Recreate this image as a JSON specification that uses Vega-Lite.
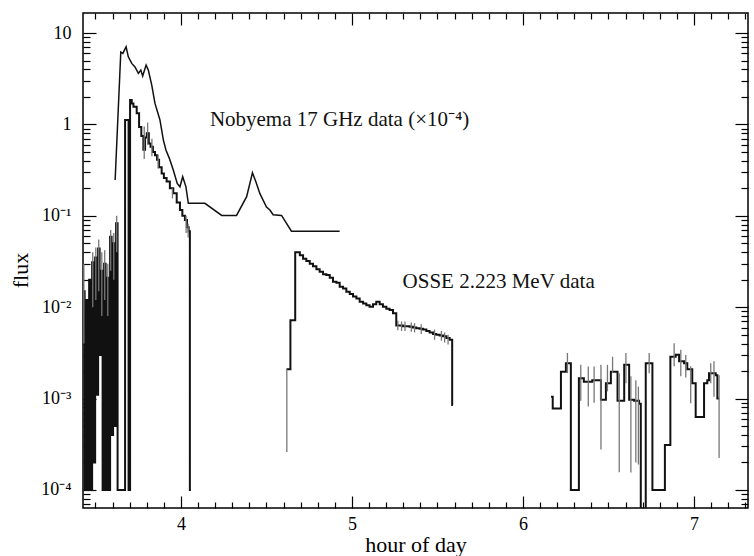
{
  "$schema": "https://vega.github.io/schema/vega-lite/v6.json",
  "width": 665,
  "height": 495,
  "autosize": {"type": "none"},
  "padding": {"left": 83, "top": 13, "right": 6, "bottom": 48},
  "background": "white",
  "config": {
    "font": "Liberation Serif",
    "view": {"stroke": "black", "strokeWidth": 1.5},
    "axis": {"domain": false, "grid": false, "tickColor": "black", "tickWidth": 1.2, "labelColor": "black", "titleColor": "black", "labelFontSize": 18, "titleFontSize": 22, "titleFontWeight": "normal", "labelFont": "Liberation Serif", "titleFont": "Liberation Serif"}
  },
  "datasets": {
    "osse": [
      {"h": 3.4279, "f": 0.015, "seg": "a"},
      {"h": 3.4367, "f": 0.0001, "seg": "a"},
      {"h": 3.4454, "f": 0.012, "seg": "a"},
      {"h": 3.4542, "f": 0.0001, "seg": "a"},
      {"h": 3.4629, "f": 0.02, "seg": "a"},
      {"h": 3.4717, "f": 0.0001, "seg": "a"},
      {"h": 3.4804, "f": 0.031, "seg": "a"},
      {"h": 3.4892, "f": 0.0002, "seg": "a"},
      {"h": 3.498, "f": 0.035, "seg": "a"},
      {"h": 3.5067, "f": 0.0011, "seg": "a"},
      {"h": 3.5155, "f": 0.044, "seg": "a"},
      {"h": 3.5242, "f": 0.003, "seg": "a"},
      {"h": 3.533, "f": 0.025, "seg": "a"},
      {"h": 3.5417, "f": 0.0001, "seg": "a"},
      {"h": 3.5505, "f": 0.03, "seg": "a"},
      {"h": 3.5592, "f": 0.0001, "seg": "a"},
      {"h": 3.568, "f": 0.021, "seg": "a"},
      {"h": 3.5768, "f": 0.0001, "seg": "a"},
      {"h": 3.5855, "f": 0.059, "seg": "a"},
      {"h": 3.5943, "f": 0.0004, "seg": "a"},
      {"h": 3.603, "f": 0.05, "seg": "a"},
      {"h": 3.6118, "f": 0.0005, "seg": "a"},
      {"h": 3.6205, "f": 0.083, "seg": "a"},
      {"h": 3.6293, "f": 0.0001, "seg": "a"},
      {"h": 3.6731, "f": 1.12, "seg": "a"},
      {"h": 3.6935, "f": 0.0001, "seg": "a"},
      {"h": 3.7023, "f": 1.85, "seg": "a"},
      {"h": 3.712, "f": 1.7, "seg": "a"},
      {"h": 3.722, "f": 1.56, "seg": "a"},
      {"h": 3.741, "f": 1.33, "seg": "a"},
      {"h": 3.755, "f": 0.94, "seg": "a"},
      {"h": 3.768, "f": 0.75, "seg": "a"},
      {"h": 3.78, "f": 0.53, "seg": "a"},
      {"h": 3.79, "f": 0.72, "seg": "a"},
      {"h": 3.8, "f": 0.8, "seg": "a"},
      {"h": 3.812, "f": 0.62, "seg": "a"},
      {"h": 3.822, "f": 0.57, "seg": "a"},
      {"h": 3.836, "f": 0.5, "seg": "a"},
      {"h": 3.848, "f": 0.46, "seg": "a"},
      {"h": 3.86, "f": 0.41, "seg": "a"},
      {"h": 3.872, "f": 0.34, "seg": "a"},
      {"h": 3.887, "f": 0.29, "seg": "a"},
      {"h": 3.9, "f": 0.26, "seg": "a"},
      {"h": 3.916, "f": 0.237, "seg": "a"},
      {"h": 3.935, "f": 0.2, "seg": "a"},
      {"h": 3.955, "f": 0.177, "seg": "a"},
      {"h": 3.975, "f": 0.14, "seg": "a"},
      {"h": 3.994, "f": 0.116, "seg": "a"},
      {"h": 4.008, "f": 0.1, "seg": "a"},
      {"h": 4.023, "f": 0.09, "seg": "a"},
      {"h": 4.035, "f": 0.075, "seg": "a"},
      {"h": 4.045, "f": 0.068, "seg": "a"},
      {"h": 4.052, "f": 0.0001, "seg": "a"},
      {"h": 4.058, "f": 0.0001, "seg": "a"},
      {"h": 4.617, "f": 0.0021, "seg": "b"},
      {"h": 4.64, "f": 0.0072, "seg": "b"},
      {"h": 4.668, "f": 0.04, "seg": "b"},
      {"h": 4.695, "f": 0.037, "seg": "b"},
      {"h": 4.714, "f": 0.034, "seg": "b"},
      {"h": 4.733, "f": 0.032, "seg": "b"},
      {"h": 4.753, "f": 0.03, "seg": "b"},
      {"h": 4.772, "f": 0.028, "seg": "b"},
      {"h": 4.792, "f": 0.026, "seg": "b"},
      {"h": 4.811, "f": 0.0245, "seg": "b"},
      {"h": 4.831, "f": 0.023, "seg": "b"},
      {"h": 4.85, "f": 0.0226, "seg": "b"},
      {"h": 4.87, "f": 0.021, "seg": "b"},
      {"h": 4.889, "f": 0.019, "seg": "b"},
      {"h": 4.909, "f": 0.0185, "seg": "b"},
      {"h": 4.928, "f": 0.0168, "seg": "b"},
      {"h": 4.948, "f": 0.016, "seg": "b"},
      {"h": 4.967, "f": 0.0148, "seg": "b"},
      {"h": 4.987, "f": 0.014, "seg": "b"},
      {"h": 5.006, "f": 0.0131, "seg": "b"},
      {"h": 5.026, "f": 0.0125, "seg": "b"},
      {"h": 5.045, "f": 0.0115, "seg": "b"},
      {"h": 5.065, "f": 0.011, "seg": "b"},
      {"h": 5.084, "f": 0.0105, "seg": "b"},
      {"h": 5.103, "f": 0.0101, "seg": "b"},
      {"h": 5.123, "f": 0.0108, "seg": "b"},
      {"h": 5.142, "f": 0.0115, "seg": "b"},
      {"h": 5.162, "f": 0.0108, "seg": "b"},
      {"h": 5.181, "f": 0.0101, "seg": "b"},
      {"h": 5.201, "f": 0.0096, "seg": "b"},
      {"h": 5.22, "f": 0.0093, "seg": "b"},
      {"h": 5.24, "f": 0.0086, "seg": "b"},
      {"h": 5.259, "f": 0.0063, "seg": "b"},
      {"h": 5.279, "f": 0.0063, "seg": "b"},
      {"h": 5.298, "f": 0.0062, "seg": "b"},
      {"h": 5.318, "f": 0.0062, "seg": "b"},
      {"h": 5.337, "f": 0.0061, "seg": "b"},
      {"h": 5.357, "f": 0.006, "seg": "b"},
      {"h": 5.376, "f": 0.0059, "seg": "b"},
      {"h": 5.396, "f": 0.0058, "seg": "b"},
      {"h": 5.415, "f": 0.0057, "seg": "b"},
      {"h": 5.435, "f": 0.0055, "seg": "b"},
      {"h": 5.454, "f": 0.0053, "seg": "b"},
      {"h": 5.474, "f": 0.0051, "seg": "b"},
      {"h": 5.493, "f": 0.005, "seg": "b"},
      {"h": 5.513, "f": 0.0049, "seg": "b"},
      {"h": 5.532, "f": 0.0048, "seg": "b"},
      {"h": 5.552, "f": 0.0046, "seg": "b"},
      {"h": 5.571, "f": 0.0044, "seg": "b"},
      {"h": 5.586, "f": 0.00085, "seg": "b"},
      {"h": 5.59, "f": 0.00085, "seg": "b"},
      {"h": 6.164, "f": 0.00105, "seg": "c"},
      {"h": 6.174, "f": 0.00078, "seg": "c"},
      {"h": 6.222, "f": 0.00197, "seg": "c"},
      {"h": 6.251, "f": 0.00243, "seg": "c"},
      {"h": 6.28, "f": 0.0001, "seg": "c"},
      {"h": 6.327, "f": 0.00167, "seg": "c"},
      {"h": 6.356, "f": 0.00153, "seg": "c"},
      {"h": 6.405, "f": 0.00159, "seg": "c"},
      {"h": 6.456, "f": 0.00097, "seg": "c"},
      {"h": 6.485, "f": 0.00147, "seg": "c"},
      {"h": 6.514, "f": 0.00197, "seg": "c"},
      {"h": 6.553, "f": 0.00095, "seg": "c"},
      {"h": 6.592, "f": 0.00234, "seg": "c"},
      {"h": 6.621, "f": 0.00097, "seg": "c"},
      {"h": 6.65, "f": 0.00095, "seg": "c"},
      {"h": 6.679, "f": 0.00088, "seg": "c"},
      {"h": 6.689, "f": 0.00005, "seg": "c"},
      {"h": 6.718, "f": 0.00243, "seg": "c"},
      {"h": 6.757, "f": 0.0001, "seg": "c"},
      {"h": 6.83, "f": 0.00031, "seg": "c"},
      {"h": 6.862, "f": 0.00287, "seg": "c"},
      {"h": 6.893, "f": 0.00302, "seg": "c"},
      {"h": 6.913, "f": 0.00257, "seg": "c"},
      {"h": 6.942, "f": 0.00243, "seg": "c"},
      {"h": 6.961, "f": 0.0021, "seg": "c"},
      {"h": 6.99, "f": 0.00147, "seg": "c"},
      {"h": 7.01, "f": 0.00063, "seg": "c"},
      {"h": 7.059, "f": 0.00147, "seg": "c"},
      {"h": 7.078, "f": 0.00159, "seg": "c"},
      {"h": 7.088, "f": 0.00189, "seg": "c"},
      {"h": 7.127, "f": 0.0018, "seg": "c"},
      {"h": 7.137, "f": 0.001, "seg": "c"},
      {"h": 7.147, "f": 0.001, "seg": "c"}
    ],
    "err": [
      {"h": 3.432, "lo": 0.004, "hi": 0.03},
      {"h": 3.484, "lo": 0.01, "hi": 0.04},
      {"h": 3.502, "lo": 0.012, "hi": 0.045},
      {"h": 3.519, "lo": 0.015, "hi": 0.055},
      {"h": 3.537, "lo": 0.008, "hi": 0.04},
      {"h": 3.554, "lo": 0.012, "hi": 0.042},
      {"h": 3.572, "lo": 0.008, "hi": 0.03},
      {"h": 3.589, "lo": 0.025, "hi": 0.07},
      {"h": 3.607, "lo": 0.02, "hi": 0.065},
      {"h": 3.624, "lo": 0.04, "hi": 0.1},
      {"h": 3.785, "lo": 0.42, "hi": 0.95},
      {"h": 3.805, "lo": 0.6, "hi": 1.05},
      {"h": 3.83, "lo": 0.45, "hi": 0.7},
      {"h": 3.866, "lo": 0.33, "hi": 0.47},
      {"h": 3.95, "lo": 0.155, "hi": 0.2},
      {"h": 4.03, "lo": 0.065, "hi": 0.1},
      {"h": 4.042, "lo": 0.058, "hi": 0.082},
      {"h": 4.619, "lo": 0.00026, "hi": 0.0021},
      {"h": 5.268, "lo": 0.0056, "hi": 0.0071},
      {"h": 5.29, "lo": 0.0055, "hi": 0.007},
      {"h": 5.31, "lo": 0.0055, "hi": 0.007},
      {"h": 5.347, "lo": 0.0054, "hi": 0.0068},
      {"h": 5.366, "lo": 0.0053, "hi": 0.0067},
      {"h": 5.405, "lo": 0.0051, "hi": 0.0065},
      {"h": 5.483, "lo": 0.0044, "hi": 0.0057},
      {"h": 5.523, "lo": 0.0043, "hi": 0.0055},
      {"h": 5.542, "lo": 0.0041, "hi": 0.0053},
      {"h": 5.562, "lo": 0.0039, "hi": 0.005},
      {"h": 6.26, "lo": 0.0019, "hi": 0.00316},
      {"h": 6.338, "lo": 0.00095, "hi": 0.00234},
      {"h": 6.382, "lo": 0.00082, "hi": 0.00225},
      {"h": 6.416, "lo": 0.0009, "hi": 0.00225},
      {"h": 6.456, "lo": 0.000277, "hi": 0.00234},
      {"h": 6.494, "lo": 0.0012, "hi": 0.00234},
      {"h": 6.524, "lo": 0.0019, "hi": 0.00287},
      {"h": 6.563, "lo": 0.000156, "hi": 0.0019},
      {"h": 6.602, "lo": 0.00147, "hi": 0.00316},
      {"h": 6.631, "lo": 0.000155, "hi": 0.00176},
      {"h": 6.66, "lo": 0.0002, "hi": 0.00159},
      {"h": 6.675, "lo": 0.00019, "hi": 0.00135},
      {"h": 6.738, "lo": 0.0019, "hi": 0.00316},
      {"h": 6.884, "lo": 0.00226, "hi": 0.00403},
      {"h": 6.923, "lo": 0.00176, "hi": 0.00342},
      {"h": 6.952, "lo": 0.0017, "hi": 0.003},
      {"h": 6.981, "lo": 0.00089, "hi": 0.00226},
      {"h": 7.098, "lo": 0.00147, "hi": 0.00243},
      {"h": 7.117, "lo": 0.00105, "hi": 0.00257},
      {"h": 7.147, "lo": 0.000224, "hi": 0.0018}
    ],
    "radio": [
      {"h": 3.615, "f": 0.247},
      {"h": 3.648, "f": 6.2},
      {"h": 3.66, "f": 6.0},
      {"h": 3.679, "f": 7.08},
      {"h": 3.692, "f": 5.5},
      {"h": 3.712, "f": 4.66},
      {"h": 3.731, "f": 4.27},
      {"h": 3.751, "f": 3.62},
      {"h": 3.765, "f": 3.94},
      {"h": 3.776, "f": 3.4},
      {"h": 3.796, "f": 4.47},
      {"h": 3.809, "f": 3.94},
      {"h": 3.829, "f": 2.7},
      {"h": 3.848, "f": 1.7},
      {"h": 3.877, "f": 1.12},
      {"h": 3.897, "f": 0.675},
      {"h": 3.912, "f": 0.525},
      {"h": 3.932, "f": 0.426},
      {"h": 3.955, "f": 0.317},
      {"h": 3.978, "f": 0.226},
      {"h": 3.994, "f": 0.208},
      {"h": 4.01, "f": 0.268},
      {"h": 4.029, "f": 0.208},
      {"h": 4.043, "f": 0.137},
      {"h": 4.14, "f": 0.137},
      {"h": 4.238, "f": 0.101},
      {"h": 4.325, "f": 0.101},
      {"h": 4.384, "f": 0.162},
      {"h": 4.418, "f": 0.296},
      {"h": 4.44, "f": 0.23},
      {"h": 4.461, "f": 0.176},
      {"h": 4.5, "f": 0.125},
      {"h": 4.52, "f": 0.116},
      {"h": 4.539, "f": 0.103},
      {"h": 4.588, "f": 0.101},
      {"h": 4.646, "f": 0.068},
      {"h": 4.928, "f": 0.068}
    ],
    "notes": [
      {"h": 4.169, "f": 1.117, "text": "Nobyema 17 GHz data (×10⁻⁴)"},
      {"h": 5.296, "f": 0.0191, "text": "OSSE 2.223 MeV data"}
    ]
  },
  "layer": [
    {
      "data": {"name": "osse"},
      "mark": {"type": "line", "interpolate": "step-after", "color": "#111111", "strokeWidth": 2, "clip": true},
      "encoding": {
        "x": {"field": "h", "type": "quantitative", "scale": {"domain": [3.427, 7.316], "nice": false, "zero": false},
          "axis": {"orient": "bottom", "title": "hour of day", "titleY": 36, "titleBaseline": "middle",
            "values": [3.5,3.6,3.7,3.8,3.9,4,4.1,4.2,4.3,4.4,4.5,4.6,4.7,4.8,4.9,5,5.1,5.2,5.3,5.4,5.5,5.6,5.7,5.8,5.9,6,6.1,6.2,6.3,6.4,6.5,6.6,6.7,6.8,6.9,7,7.1,7.2,7.3],
            "labelExpr": "datum.value % 1 == 0 ? format(datum.value, 'd') : ''",
            "tickSize": {"condition": {"test": "datum.value % 1 == 0", "value": -12}, "value": -6},
            "labelPadding": 19, "labelFlush": false, "labelOverlap": false}},
        "y": {"field": "f", "type": "quantitative", "scale": {"type": "log", "domain": [0.0000635, 16.6], "nice": false},
          "axis": {"orient": "left", "title": "flux", "titleX": -63, "titleY": 257, "titleAngle": -90, "titleAlign": "center", "titleBaseline": "middle",
            "values": [0.00007,0.00008,0.00009,0.0001,0.0002,0.0003,0.0004,0.0005,0.0006,0.0007,0.0008,0.0009,0.001,0.002,0.003,0.004,0.005,0.006,0.007,0.008,0.009,0.01,0.02,0.03,0.04,0.05,0.06,0.07,0.08,0.09,0.1,0.2,0.3,0.4,0.5,0.6,0.7,0.8,0.9,1,2,3,4,5,6,7,8,9,10],
            "labelExpr": "datum.value == 10 ? '10' : datum.value == 1 ? '1' : datum.value == 0.1 ? '10⁻¹' : datum.value == 0.01 ? '10⁻²' : datum.value == 0.001 ? '10⁻³' : datum.value == 0.0001 ? '10⁻⁴' : ''",
            "tickSize": {"condition": {"test": "indexof([0.0001,0.001,0.01,0.1,1,10], datum.value) >= 0", "value": -13}, "value": -7},
            "labelPadding": 25, "labelFlush": false, "labelOverlap": false}},
        "detail": {"field": "seg", "type": "nominal"}
      }
    },
    {
      "data": {"name": "radio"},
      "mark": {"type": "line", "color": "#111111", "strokeWidth": 1.5, "clip": true},
      "encoding": {
        "x": {"field": "h", "type": "quantitative", "scale": {"domain": [3.427, 7.316], "nice": false, "zero": false},
          "axis": {"orient": "top", "title": null, "labels": false,
            "values": [3.5,3.6,3.7,3.8,3.9,4,4.1,4.2,4.3,4.4,4.5,4.6,4.7,4.8,4.9,5,5.1,5.2,5.3,5.4,5.5,5.6,5.7,5.8,5.9,6,6.1,6.2,6.3,6.4,6.5,6.6,6.7,6.8,6.9,7,7.1,7.2,7.3],
            "tickSize": {"condition": {"test": "datum.value % 1 == 0", "value": -12}, "value": -6}}},
        "y": {"field": "f", "type": "quantitative", "scale": {"type": "log", "domain": [0.0000635, 16.6], "nice": false},
          "axis": {"orient": "right", "title": null, "labels": false,
            "values": [0.00007,0.00008,0.00009,0.0001,0.0002,0.0003,0.0004,0.0005,0.0006,0.0007,0.0008,0.0009,0.001,0.002,0.003,0.004,0.005,0.006,0.007,0.008,0.009,0.01,0.02,0.03,0.04,0.05,0.06,0.07,0.08,0.09,0.1,0.2,0.3,0.4,0.5,0.6,0.7,0.8,0.9,1,2,3,4,5,6,7,8,9,10],
            "tickSize": {"condition": {"test": "indexof([0.0001,0.001,0.01,0.1,1,10], datum.value) >= 0", "value": -13}, "value": -7}}}
      }
    },
    {
      "data": {"name": "err"},
      "mark": {"type": "rule", "color": "#777777", "strokeWidth": 1.3, "clip": true},
      "encoding": {
        "x": {"field": "h", "type": "quantitative", "scale": {"domain": [3.427, 7.316], "nice": false, "zero": false}, "axis": null},
        "y": {"field": "lo", "type": "quantitative", "scale": {"type": "log", "domain": [0.0000635, 16.6], "nice": false}, "axis": null},
        "y2": {"field": "hi"}
      }
    },
    {
      "data": {"name": "notes"},
      "mark": {"type": "text", "align": "left", "baseline": "middle", "font": "Liberation Serif", "fontSize": 21, "color": "#111111"},
      "encoding": {
        "x": {"field": "h", "type": "quantitative", "scale": {"domain": [3.427, 7.316], "nice": false, "zero": false}, "axis": null},
        "y": {"field": "f", "type": "quantitative", "scale": {"type": "log", "domain": [0.0000635, 16.6], "nice": false}, "axis": null},
        "text": {"field": "text"}
      }
    }
  ],
  "resolve": {"axis": {"x": "independent", "y": "independent"}}
}
